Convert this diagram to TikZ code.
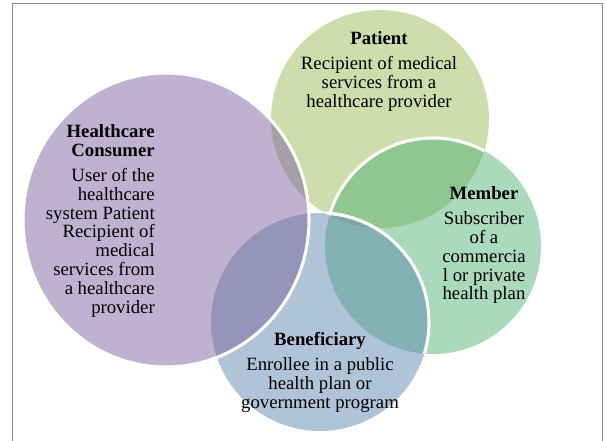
\documentclass[tikz,border=0pt]{standalone}
\usepackage{fontspec}
\setmainfont{Liberation Serif}
\usepackage{tikz}
\usetikzlibrary{positioning}
\definecolor{VennPurple}{HTML}{8064A2}
\definecolor{VennLime}{HTML}{9BBB59}
\definecolor{VennGreen}{HTML}{55B377}
\definecolor{VennBlue}{HTML}{5F8BAF}
\definecolor{FrameGrey}{HTML}{8A8A8A}
\newcommand{\venntext}{\fontsize{16}{16.2}\selectfont}

\begin{document}
\begin{tikzpicture}[x=0.03cm,y=0.03cm,
  blob/.style={fill opacity=0.5},
  rim/.style={draw=white,line width=2.6pt},
  blurb/.style={inner sep=0pt,font=\venntext,align=center,anchor=north,text=black}]
  \useasboundingbox (0,0) rectangle (606,441);
  % frame, open at the bottom
  \draw[FrameGrey,line width=1.3pt] (12.5,0) -- (12.5,437.5) -- (602.5,437.5) -- (602.5,0);
  \coordinate (pat) at (380,322);
  \coordinate (mem) at (433,195);
  \coordinate (ben) at (320,119);
  \coordinate (con) at (166,221);
  % circles, bottom one first
  \fill[VennLime,blob] (pat) circle (109);
  \fill[VennGreen,blob] (mem) circle (108);
  \begin{scope}
    \clip (pat) circle (109);
    \draw[rim] (mem) circle (108);
  \end{scope}
  \fill[VennBlue,blob] (ben) circle (109);
  \foreach \under/\r in {mem/108,pat/109}{
    \begin{scope}
      \clip (\under) circle (\r);
      \draw[rim] (ben) circle (109);
    \end{scope}
  }
  \fill[VennPurple,blob] (con) ellipse [x radius=143,y radius=147];
  \draw[rim] (con) ellipse [x radius=143,y radius=147];
  % texts
  \node[blurb] (patient) at (379,410)
    {\textbf{Patient}\\[5pt]Recipient of medical\\services from a\\healthcare provider};
  \node[blurb,anchor=north east,align=right] (consumer) at (155,317)
    {\textbf{Healthcare}\\\textbf{Consumer}\\[5pt]User of the\\healthcare\\system Patient\\Recipient of\\medical\\services from\\a healthcare\\provider};
  \node[blurb] (member) at (484,255)
    {\textbf{Member}\\[5pt]Subscriber\\of a\\commercia\\l or private\\health plan};
  \node[blurb] (beneficiary) at (320,109)
    {\textbf{Beneficiary}\\[5pt]Enrollee in a public\\health plan or\\government program};
\end{tikzpicture}
\end{document}
